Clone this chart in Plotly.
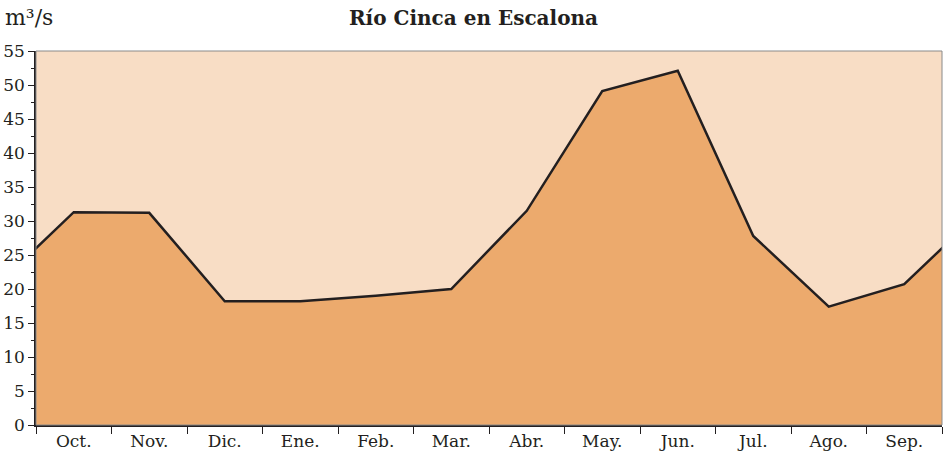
import plotly.graph_objects as go

months = ["Oct.", "Nov.", "Dic.", "Ene.", "Feb.", "Mar.", "Abr.", "May.", "Jun.", "Jul.", "Ago.", "Sep."]
caudal = [31.3, 31.2, 18.2, 18.2, 19.0, 20.0, 31.5, 49.1, 52.1, 27.8, 17.4, 20.7]
y_ticks = [0, 5, 10, 15, 20, 25, 30, 35, 40, 45, 50, 55]

# cyclic regime: wrap the last month before Oct. and the first after Sep.; the axis clips them
xs = [-1] + list(range(len(months))) + [len(months)]
ys = [caudal[-1]] + caudal + [caudal[0]]

ink = "#231F20"
font_family = "DejaVu Serif"

fig = go.Figure()
fig.add_trace(go.Scatter(
    x=xs, y=ys, mode="lines", fill="tozeroy",
    fillcolor="#ECAA6D", line=dict(color=ink, width=2.5),
    hoverinfo="skip", showlegend=False,
))

fig.update_layout(
    width=947, height=457, autosize=False,
    margin=dict(l=36, r=5, t=51, b=32, autoexpand=False),
    paper_bgcolor="white", plot_bgcolor="#F8DDC5",
    font=dict(family=font_family, size=17, color=ink),
    title=dict(text="<b>Río Cinca en Escalona</b>", x=0.5, xanchor="center",
               y=1 - 18 / 457, yanchor="middle", font=dict(size=20, family=font_family, color=ink)),
    xaxis=dict(
        range=[-0.5, len(months) - 0.5], tickmode="array",
        tickvals=list(range(len(months))), ticktext=months,
        ticks="", showgrid=False, zeroline=False, automargin=False,
        showline=True, linecolor=ink, linewidth=1.5,
        minor=dict(tickmode="linear", tick0=-0.5, dtick=1, ticks="outside",
                   ticklen=7, tickwidth=1.2, tickcolor=ink, showgrid=False),
        tickfont=dict(size=17),
    ),
    yaxis=dict(
        range=[0, 55], tickmode="array", tickvals=y_ticks,
        ticks="outside", ticklen=6, tickwidth=1.2, tickcolor=ink,
        showgrid=False, zeroline=False, automargin=False,
        showline=True, linecolor=ink, linewidth=1.5,
        minor=dict(tickmode="linear", tick0=2.5, dtick=5, ticks="outside",
                   ticklen=3, tickwidth=1, tickcolor=ink, showgrid=False),
        tickfont=dict(size=17),
    ),
    shapes=[dict(type="rect", xref="paper", yref="paper", x0=0, x1=1, y0=0, y1=1,
                 line=dict(color="#8a8a8a", width=1), layer="above")],
    annotations=[dict(text="m³/s", xref="paper", yref="paper",
                      x=-33 / 906, xanchor="left", y=1 + 34 / 374, yanchor="middle",
                      showarrow=False, font=dict(size=22, family=font_family, color=ink))],
)

fig.write_html("out.html", config={"displayModeBar": False},
               post_script="document.body.style.margin='0';document.body.style.overflow='hidden';")
